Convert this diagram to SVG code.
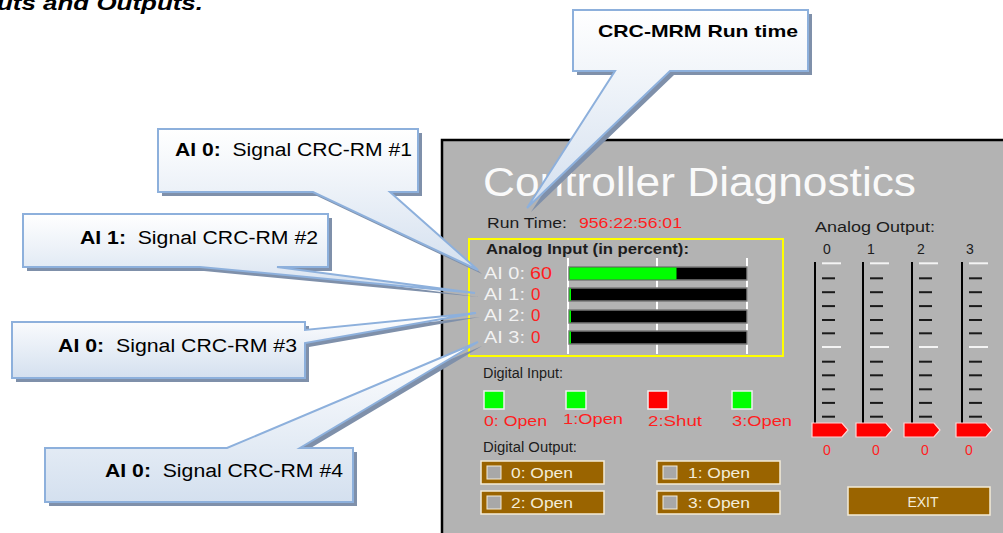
<svg xmlns="http://www.w3.org/2000/svg" xmlns:xlink="http://www.w3.org/1999/xlink" width="1003" height="533" viewBox="0 0 1003 533">
<style>
text{font-family:"Liberation Sans",Arial,sans-serif}
.call{fill:url(#cg);stroke:#8db0dc;stroke-width:2}
.shad{fill:#7f90aa}
.ct{font-size:18px;fill:#000}
.dark{fill:#1c1c1c;font-size:14px}
.ai{fill:#f2f2f2;font-size:17px}
.red{fill:#ff1e1e}
.bar{fill:#000;stroke:#7a7a7a;stroke-width:1.5}
.vl{stroke:#ffffff;stroke-width:2}
.btn{fill:#9a6400;stroke:#f4ecd8;stroke-width:1.5}
.chk{fill:#a8a8a8;stroke:#f4ecd8;stroke-width:1}
.bt{fill:#f4ecd8;font-size:14px}
.di{stroke:#f0f0f0;stroke-width:1.5}
</style>
<defs>
<linearGradient id="cg" x1="0" y1="0" x2="0" y2="1">
<stop offset="0" stop-color="#ffffff"/>
<stop offset="1" stop-color="#d4e0ef"/>
</linearGradient>
<g id="scale">
<line x1="0" y1="262" x2="0" y2="423" stroke="#000" stroke-width="2"/>
<g stroke="#1a1a1a" stroke-width="2">
<line x1="7" y1="278.3" x2="20" y2="278.3"/>
<line x1="7" y1="292.2" x2="20" y2="292.2"/>
<line x1="7" y1="306.1" x2="20" y2="306.1"/>
<line x1="7" y1="320" x2="20" y2="320"/>
<line x1="7" y1="333.3" x2="20" y2="333.3"/>
<line x1="7" y1="361.7" x2="20" y2="361.7"/>
<line x1="7" y1="375.3" x2="20" y2="375.3"/>
<line x1="7" y1="389.3" x2="20" y2="389.3"/>
<line x1="7" y1="402.9" x2="20" y2="402.9"/>
<line x1="7" y1="416.7" x2="20" y2="416.7"/>
</g>
<g stroke="#f4f4f4" stroke-width="2">
<line x1="7" y1="263.3" x2="26" y2="263.3"/>
<line x1="7" y1="347" x2="26" y2="347"/>
</g>
</g>
<polygon id="ptr" points="0,-7 30,-7 36,0 30,7 0,7" fill="#ff0000" stroke="#ffd6d6" stroke-width="1.2"/>
</defs>

<text x="-3" y="10" font-size="20" font-weight="bold" font-style="italic" textLength="206" lengthAdjust="spacingAndGlyphs">uts and Outputs.</text>

<g id="panel">
<rect x="442" y="140" width="600" height="420" fill="#b3b3b3" stroke="#000" stroke-width="2.5"/>
<text x="483" y="196" font-size="40" fill="#fafafa" textLength="433" lengthAdjust="spacingAndGlyphs">Controller Diagnostics</text>
<text class="dark" x="487" y="228" textLength="80" lengthAdjust="spacingAndGlyphs">Run Time:</text>
<text class="red" x="579" y="228" font-size="14" textLength="103" lengthAdjust="spacingAndGlyphs">956:22:56:01</text>

<g id="analog-input">
<rect x="469" y="239" width="314" height="117" fill="none" stroke="#ffff00" stroke-width="2"/>
<text class="dark" x="486" y="254" font-weight="bold" textLength="203" lengthAdjust="spacingAndGlyphs">Analog Input (in percent):</text>
<text class="ai" x="484" y="279" textLength="41" lengthAdjust="spacingAndGlyphs">AI 0:</text>
<text class="red" x="530" y="279" font-size="17" textLength="22" lengthAdjust="spacingAndGlyphs">60</text>
<text class="ai" x="484" y="300" textLength="41" lengthAdjust="spacingAndGlyphs">AI 1:</text>
<text class="red" x="531" y="300" font-size="17">0</text>
<text class="ai" x="484" y="321" textLength="41" lengthAdjust="spacingAndGlyphs">AI 2:</text>
<text class="red" x="531" y="321" font-size="17">0</text>
<text class="ai" x="484" y="343" textLength="41" lengthAdjust="spacingAndGlyphs">AI 3:</text>
<text class="red" x="531" y="343" font-size="17">0</text>
<line class="vl" x1="568" y1="258" x2="568" y2="354"/>
<line class="vl" x1="657" y1="258" x2="657" y2="354"/>
<line class="vl" x1="747" y1="258" x2="747" y2="354"/>
<rect class="bar" x="569" y="267" width="178" height="13"/>
<rect x="569.5" y="267.5" width="107" height="12" fill="#00ff00"/>
<rect class="bar" x="569" y="288" width="178" height="13"/>
<rect class="bar" x="569" y="310" width="178" height="13"/>
<rect class="bar" x="569" y="331" width="178" height="13"/>
<rect x="569.5" y="288.5" width="1.5" height="12" fill="#00ff00"/>
<rect x="569.5" y="310.5" width="1.5" height="12" fill="#00ff00"/>
<rect x="569.5" y="331.5" width="1.5" height="12" fill="#00ff00"/>
</g>

<g id="analog-output">
<text class="dark" x="815" y="232" textLength="120" lengthAdjust="spacingAndGlyphs">Analog Output:</text>
<g class="dark" text-anchor="middle">
<text x="827" y="254">0</text>
<text x="871" y="254">1</text>
<text x="921" y="254">2</text>
<text x="970" y="254">3</text>
</g>
<use xlink:href="#scale" x="815"/>
<use xlink:href="#scale" x="863"/>
<use xlink:href="#scale" x="912"/>
<use xlink:href="#scale" x="962"/>
<use xlink:href="#ptr" x="812" y="430"/>
<use xlink:href="#ptr" x="856" y="430"/>
<use xlink:href="#ptr" x="904" y="430"/>
<use xlink:href="#ptr" x="956" y="430"/>
<g class="red" font-size="14" text-anchor="middle">
<text x="827" y="455">0</text>
<text x="876" y="455">0</text>
<text x="925" y="455">0</text>
<text x="969" y="455">0</text>
</g>
</g>

<g id="digital-input">
<text class="dark" x="483" y="378" textLength="80" lengthAdjust="spacingAndGlyphs">Digital Input:</text>
<rect class="di" x="484" y="391" width="20" height="18" fill="#00ff00"/>
<rect class="di" x="566" y="391" width="20" height="18" fill="#00ff00"/>
<rect class="di" x="648" y="391" width="20" height="18" fill="#ff0000"/>
<rect class="di" x="732" y="391" width="20" height="18" fill="#00ff00"/>
<g class="red" font-size="15">
<text x="484" y="426" textLength="63" lengthAdjust="spacingAndGlyphs">0: Open</text>
<text x="563" y="424" textLength="60" lengthAdjust="spacingAndGlyphs">1:Open</text>
<text x="648" y="426" textLength="54" lengthAdjust="spacingAndGlyphs">2:Shut</text>
<text x="732" y="426" textLength="60" lengthAdjust="spacingAndGlyphs">3:Open</text>
</g>
</g>

<g id="digital-output">
<text class="dark" x="483" y="452" textLength="94" lengthAdjust="spacingAndGlyphs">Digital Output:</text>
<rect class="btn" x="481" y="461" width="123" height="23"/>
<rect class="chk" x="487" y="466" width="14" height="13"/>
<text class="bt" x="511" y="478" textLength="62" lengthAdjust="spacingAndGlyphs">0: Open</text>
<rect class="btn" x="657" y="461" width="123" height="23"/>
<rect class="chk" x="663" y="466" width="14" height="13"/>
<text class="bt" x="688" y="478" textLength="62" lengthAdjust="spacingAndGlyphs">1: Open</text>
<rect class="btn" x="481" y="491" width="123" height="23"/>
<rect class="chk" x="487" y="496" width="14" height="13"/>
<text class="bt" x="511" y="508" textLength="62" lengthAdjust="spacingAndGlyphs">2: Open</text>
<rect class="btn" x="657" y="491" width="123" height="23"/>
<rect class="chk" x="663" y="496" width="14" height="13"/>
<text class="bt" x="688" y="508" textLength="62" lengthAdjust="spacingAndGlyphs">3: Open</text>
</g>

<g id="exit">
<rect class="btn" x="848" y="487" width="142" height="28"/>
<text class="bt" x="923" y="507" text-anchor="middle" font-size="15">EXIT</text>
</g>
</g>

<g id="connectors">
<g id="callout-runtime">
<path class="shad" transform="translate(4,4)" d="M573,10 H808 V71 H670 L527,208 L615,71 H573 Z"/>
<path class="call" d="M573,10 H808 V71 H670 L527,208 L615,71 H573 Z"/>
<text x="598" y="37" font-size="17" font-weight="bold" textLength="200" lengthAdjust="spacingAndGlyphs">CRC-MRM Run time</text>
</g>
<g id="callout-ai0">
<path class="shad" transform="translate(4,4)" d="M158,129 H418 V192 H390 L478,270 L313,192 H158 Z"/>
<path class="call" d="M158,129 H418 V192 H390 L478,270 L313,192 H158 Z"/>
<text class="ct" x="175" y="156" textLength="237" lengthAdjust="spacingAndGlyphs"><tspan font-weight="bold">AI 0:</tspan>&#160; Signal CRC-RM #1</text>
</g>
<g id="callout-ai1">
<path class="shad" transform="translate(4,4)" d="M23,214 H328 V267 H277 L475,293 L200,267 H23 Z"/>
<path class="call" d="M23,214 H328 V267 H277 L475,293 L200,267 H23 Z"/>
<text class="ct" x="80" y="244" textLength="238" lengthAdjust="spacingAndGlyphs"><tspan font-weight="bold">AI 1:</tspan>&#160; Signal CRC-RM #2</text>
</g>
<g id="callout-ai2">
<path class="shad" transform="translate(4,4)" d="M12,322 H305 V330 L476,313 L305,343 V378 H12 Z"/>
<path class="call" d="M12,322 H305 V330 L476,313 L305,343 V378 H12 Z"/>
<text class="ct" x="58" y="352" textLength="239" lengthAdjust="spacingAndGlyphs"><tspan font-weight="bold">AI 0:</tspan>&#160; Signal CRC-RM #3</text>
</g>
<g id="callout-ai3">
<path class="shad" transform="translate(4,4)" d="M45,448 H227 L478,342 L300,448 H353 V502 H45 Z"/>
<path class="call" d="M45,448 H227 L478,342 L300,448 H353 V502 H45 Z"/>
<text class="ct" x="105" y="477" textLength="238" lengthAdjust="spacingAndGlyphs"><tspan font-weight="bold">AI 0:</tspan>&#160; Signal CRC-RM #4</text>
</g>
</g>
</svg>
